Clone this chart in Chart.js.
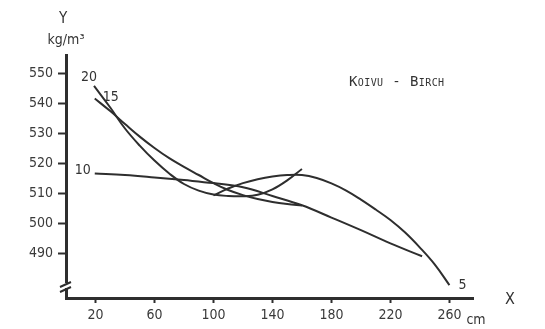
<!DOCTYPE html>
<html>
<head>
<meta charset="utf-8">
<script src="https://cdn.jsdelivr.net/npm/chart.js@4"></script>
<style>
  html, body { margin:0; padding:0; background:#fff; }
  #wrap { position:relative; width:545px; height:329px; overflow:hidden; }
  canvas { position:absolute; left:0; top:0; }
  .lbl { position:absolute; color:#333; font-family:"Liberation Sans Narrow","DejaVu Sans Condensed",sans-serif; white-space:nowrap; transform:translate(-50%,-50%); line-height:1; }
  #title { font-family:"DejaVu Sans Mono","Liberation Mono",monospace; font-variant:small-caps; font-size:14px; letter-spacing:0.4px; transform:translate(0,-50%); }
</style>
</head>
<body>
<div id="wrap">
  <canvas id="c" width="545" height="329"></canvas>
  <div class="lbl" style="left:63px; top:18px; font-size:15px;">Y</div>
  <div class="lbl" style="left:66px; top:39px; font-size:14px;">kg/m³</div>
  <div class="lbl" style="left:510px; top:299px; font-size:16px;">X</div>
  <div class="lbl" style="left:476px; top:319px; font-size:14px;">cm</div>
  <div class="lbl" id="title" style="left:349px; top:81px;">Koivu - Birch</div>
</div>
<script>
// ---- data ----
const xTicks = [20, 60, 100, 140, 180, 220, 260];
const yTicks = [490, 500, 510, 520, 530, 540, 550];

const seriesNames = ["20", "15", "10", "5"];

const curve20X = [19, 30, 40, 50, 60, 70, 80, 90, 100, 110, 120, 130, 140, 150, 160];
const curve20Y = [545.7, 538.5, 531.5, 525.8, 520.8, 516.5, 513, 510.8, 509.5, 509, 508.9, 509.4, 511.2, 514.2, 518];

const curve15X = [19.5, 30, 40, 50, 60, 70, 80, 90, 100, 110, 120, 130, 140, 150, 160];
const curve15Y = [541.5, 537.3, 533, 528.8, 525, 521.6, 518.7, 516, 513.3, 511, 509.3, 508, 507, 506.3, 505.8];

const curve10X = [19.5, 40, 60, 80, 100, 120, 140, 160, 180, 200, 220, 241.5];
const curve10Y = [516.5, 516, 515.2, 514.3, 513.3, 511.9, 509, 505.9, 501.8, 497.6, 493.2, 488.9];

const curve5X = [100, 110, 120, 130, 140, 150, 160, 170, 180, 190, 200, 210, 220, 230, 240, 250, 260];
const curve5Y = [509.2, 511.5, 513.3, 514.6, 515.5, 516, 516, 515, 513.2, 510.8, 507.8, 504.5, 501, 496.8, 491.8, 486.2, 479.3];

function pts(xs, ys) { return xs.map((x, i) => ({ x: x, y: ys[i] })); }

const ink = '#2e2e2e';
const tickFont = { family: '"Liberation Sans Narrow","DejaVu Sans Condensed",sans-serif', size: 14 };

// curve label placement: which end and pixel offset
const labelSpec = [
  { end: 'start', dx: -5, dy: -9 },
  { end: 'start', dx: 16, dy: -1 },
  { end: 'start', dx: -12, dy: -3 },
  { end: 'end', dx: 13, dy: 0 }
];

const curveLabels = {
  id: 'curveLabels',
  afterDatasetsDraw(chart) {
    const ctx = chart.ctx;
    const xs = chart.scales.x, ys = chart.scales.y;
    ctx.save();
    ctx.fillStyle = '#333';
    ctx.font = '14px "Liberation Sans Narrow","DejaVu Sans Condensed",sans-serif';
    ctx.textAlign = 'center';
    ctx.textBaseline = 'middle';
    chart.data.datasets.forEach((ds, i) => {
      const spec = labelSpec[i];
      const p = spec.end === 'start' ? ds.data[0] : ds.data[ds.data.length - 1];
      ctx.fillText(ds.label, xs.getPixelForValue(p.x) + spec.dx, ys.getPixelForValue(p.y) + spec.dy);
    });
    ctx.restore();
  }
};

const axisBreak = {
  id: 'axisBreak',
  afterDraw(chart) {
    const ctx = chart.ctx;
    const a = chart.chartArea;
    const x = a.left;
    const yb = a.bottom;
    ctx.save();
    ctx.fillStyle = '#fff';
    ctx.fillRect(x - 3, yb - 15, 6, 5);
    ctx.strokeStyle = ink;
    ctx.lineWidth = 2;
    ctx.beginPath();
    ctx.moveTo(x - 6, yb - 11); ctx.lineTo(x + 5, yb - 16);
    ctx.moveTo(x - 6, yb - 6); ctx.lineTo(x + 5, yb - 11);
    ctx.stroke();
    ctx.restore();
  }
};

new Chart(document.getElementById('c'), {
  type: 'line',
  data: {
    datasets: [
      { label: seriesNames[0], data: pts(curve20X, curve20Y) },
      { label: seriesNames[1], data: pts(curve15X, curve15Y) },
      { label: seriesNames[2], data: pts(curve10X, curve10Y) },
      { label: seriesNames[3], data: pts(curve5X, curve5Y) }
    ].map(d => Object.assign(d, {
      borderColor: ink, borderWidth: 2, pointRadius: 0, fill: false, tension: 0.4
    }))
  },
  options: {
    responsive: false,
    animation: false,
    layout: { padding: { top: 55, right: 72, left: 0, bottom: 0 } },
    plugins: { legend: { display: false }, tooltip: { enabled: false } },
    scales: {
      x: {
        type: 'linear', min: 0, max: 276,
        afterBuildTicks: s => { s.ticks = xTicks.map(v => ({ value: v })); },
        afterFit: s => { s.height = 31; },
        border: { display: true, color: ink, width: 3 },
        grid: { drawOnChartArea: false, drawTicks: true, tickLength: 5, tickColor: ink, tickWidth: 2 },
        ticks: { color: '#3a3a3a', font: tickFont, padding: 4, maxRotation: 0, autoSkip: false }
      },
      y: {
        type: 'linear', min: 475, max: 556,
        afterBuildTicks: s => { s.ticks = yTicks.map(v => ({ value: v })); },
        afterFit: s => { s.width = 66; },
        border: { display: true, color: ink, width: 3 },
        grid: { drawOnChartArea: false, drawTicks: true, tickLength: 8, tickColor: ink, tickWidth: 2 },
        ticks: { color: '#3a3a3a', font: tickFont, padding: 5, autoSkip: false }
      }
    }
  },
  plugins: [curveLabels, axisBreak]
});
</script>
</body>
</html>
